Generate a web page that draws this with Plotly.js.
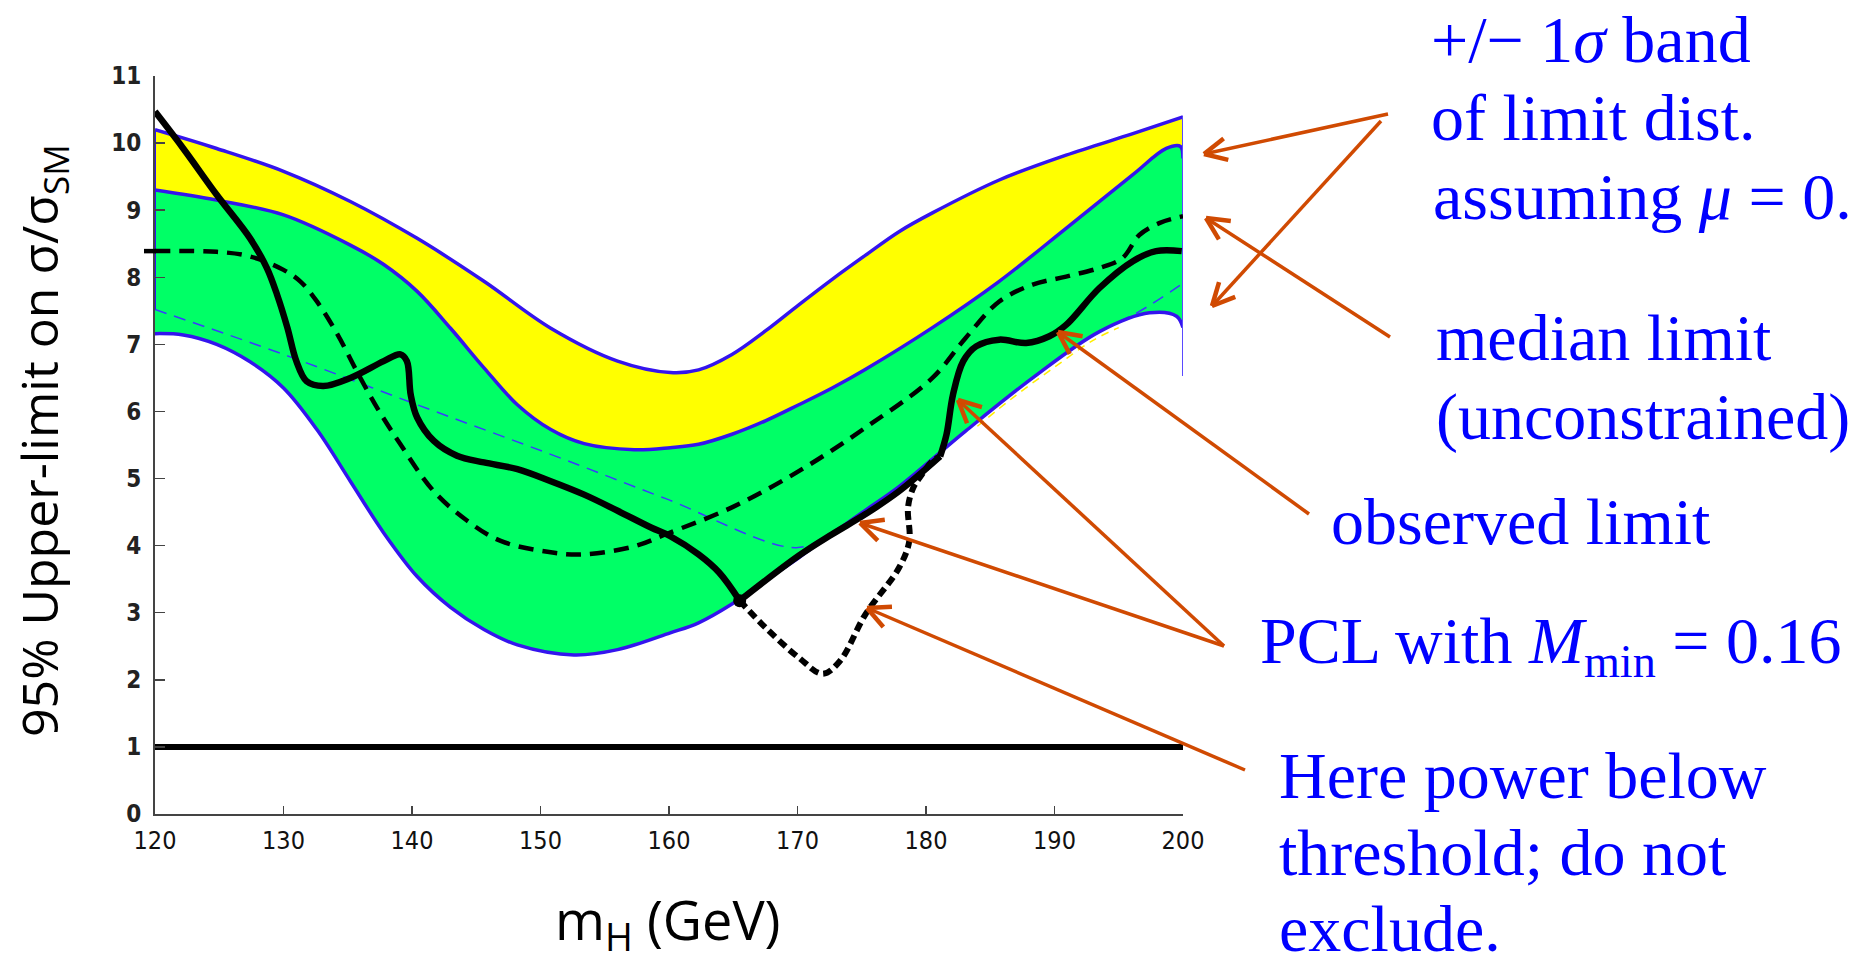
<!DOCTYPE html>
<html>
<head>
<meta charset="utf-8">
<script src="https://cdn.plot.ly/plotly-3.0.1.min.js"></script>
<style>html,body{margin:0;padding:0;background:#fff;}#chart{width:1870px;height:965px;}</style>
</head>
<body>
<div id="chart"></div>
<script>
// ---------------- data ----------------
const xTicks = [120, 130, 140, 150, 160, 170, 180, 190, 200];
const yTicks = [0, 1, 2, 3, 4, 5, 6, 7, 8, 9, 10, 11];

// outer (yellow) upper edge
const outerX = [120, 124.8, 130.0, 135.2, 140.4, 145.6, 150.8, 156.0, 160.1, 162.3, 164.9, 167.5, 170.1, 172.7, 175.3, 177.9, 180.5, 185.7, 190.9, 196.1, 200];
const outerY = [10.2, 9.92, 9.58, 9.13, 8.58, 7.94, 7.24, 6.75, 6.58, 6.62, 6.85, 7.2, 7.59, 7.97, 8.33, 8.68, 8.96, 9.45, 9.82, 10.14, 10.39];

// inner (green) upper edge
const innerUpX = [120, 124.8, 130.0, 135.2, 137.8, 140.4, 143.0, 145.6, 148.2, 150.8, 153.4, 157.3, 160.1, 162.3, 164.9, 167.5, 170.1, 172.7, 175.3, 180.5, 185.7, 190.9, 196.1, 198.7, 199.8, 200];
const innerUpY = [9.30, 9.15, 8.93, 8.48, 8.19, 7.79, 7.24, 6.65, 6.10, 5.73, 5.52, 5.43, 5.46, 5.51, 5.66, 5.86, 6.10, 6.35, 6.63, 7.25, 7.94, 8.73, 9.53, 9.92, 9.95, 9.77];

// inner (green) lower edge
const innerLoX = [120, 122.2, 124.8, 127.4, 130.0, 132.6, 135.2, 137.8, 140.4, 143.0, 145.6, 148.2, 152.6, 156.0, 160.1, 162.3, 164.9, 167.5, 170.1, 172.7, 175.3, 177.9, 183.1, 188.3, 193.5, 197.4, 199.5, 200];
const innerLoY = [7.16, 7.14, 7.00, 6.74, 6.35, 5.73, 4.96, 4.19, 3.54, 3.08, 2.75, 2.52, 2.37, 2.45, 2.70, 2.85, 3.13, 3.48, 3.82, 4.18, 4.53, 4.88, 5.71, 6.50, 7.19, 7.47, 7.42, 7.25];

// median expected limit (unconstrained)
const medianX = [120, 124.8, 127.4, 130.0, 131.3, 132.6, 134.2, 135.7, 137.3, 139.1, 141.7, 144.3, 146.9, 150.8, 153.4, 157.3, 159.75, 164.9, 170.1, 175.3, 180.5, 183.1, 185.7, 188.3, 190.9, 193.5, 195.3, 196.6, 198.2, 200];
const medianY = [8.39, 8.38, 8.31, 8.11, 7.94, 7.64, 7.15, 6.60, 6.05, 5.51, 4.81, 4.37, 4.07, 3.90, 3.87, 3.99, 4.17, 4.57, 5.11, 5.76, 6.50, 7.10, 7.64, 7.89, 8.01, 8.14, 8.29, 8.63, 8.81, 8.91];

// observed limit, first solid part
const obsAX = [120, 122.2, 124.8, 127.4, 128.7, 129.5, 130.3, 131.0, 131.8, 133.1, 135.2, 137.8, 139.1, 139.6, 139.9, 140.4, 141.7, 143.5, 145.6, 148.2, 150.8, 153.4, 156.0, 158.6, 160.1, 162.3, 163.9, 165.5];
const obsAY = [10.47, 9.92, 9.23, 8.58, 8.14, 7.74, 7.25, 6.75, 6.45, 6.38, 6.50, 6.75, 6.85, 6.75, 6.25, 5.91, 5.56, 5.34, 5.24, 5.14, 4.96, 4.76, 4.52, 4.27, 4.14, 3.87, 3.60, 3.18];

// observed limit below the power threshold (dotted)
const obsLowX = [165.5, 167.5, 170.1, 171.96, 173.3, 175.3, 177.9, 178.7, 178.6, 179.0, 179.5, 180.5, 181.1];
const obsLowY = [3.18, 2.78, 2.33, 2.09, 2.28, 2.98, 3.67, 4.07, 4.57, 4.86, 5.01, 5.26, 5.33];

// PCL floor (solid, on the -1 sigma edge)
const pclX = [165.5, 170.1, 172.7, 175.3, 177.9, 181.1];
const pclY = [3.18, 3.85, 4.17, 4.47, 4.81, 5.33];

// observed limit, last solid part
const obsBX = [181.1, 181.6, 182.1, 182.9, 183.9, 185.7, 187.8, 189.6, 190.9, 193.5, 196.1, 197.9, 199.9];
const obsBY = [5.33, 5.66, 6.25, 6.75, 6.97, 7.07, 7.02, 7.12, 7.29, 7.84, 8.24, 8.39, 8.39];

// thin blue dashed threshold line
const threshX = [120, 130.0, 140.4, 150.8, 159.75, 169.9, 172.7, 175.3, 177.9, 183.1, 188.3, 193.5, 196.6, 200];
const threshY = [7.52, 6.85, 6.10, 5.36, 4.70, 3.97, 4.20, 4.52, 4.88, 5.71, 6.50, 7.19, 7.49, 7.91];

// thin yellow dashed piece under the band
const yelDashX = [184, 187, 190, 193, 195];
const yelDashY = [5.78, 6.24, 6.66, 7.06, 7.25];

// band side edges
const leftEdgeX = [120, 120];
const leftEdgeY = [7.52, 10.2];
const rightEdgeX = [200, 200];
const rightEdgeY = [6.53, 10.39];

// sigma/sigma_SM = 1 reference
const unitX = [120, 200];
const unitY = [1, 1];

// junction point
const junctionX = [165.5];
const junctionY = [3.18];

// ---------------- geometry helpers ----------------
const W = 1870, H = 965;
const ML = 155, MR = 687, MT = 76, MB = 151;
const PL = ML, PR = W - MR, PT = MT, PB = H - MB;
const px = v => (v - PL) / (PR - PL);
const py = v => (PB - v) / (PB - PT);

const BLUE = '#3414ee';
const ORANGE = '#d04a02';
const TEXTBLUE = '#0000ff';
const SPL = {shape: 'spline', smoothing: 1.0};

function arrow(tx, ty, hx, hy) {
  const a = Math.atan2(ty - hy, tx - hx);
  const th = 26 * Math.PI / 180, len = 25;
  const s = [];
  const ln = (x0, y0, x1, y1, w) => ({type: 'line', xref: 'paper', yref: 'paper',
    x0: px(x0), y0: py(y0), x1: px(x1), y1: py(y1), line: {color: ORANGE, width: w}, layer: 'above'});
  s.push(ln(tx, ty, hx, hy, 3.5));
  s.push(ln(hx, hy, hx + len * Math.cos(a + th), hy + len * Math.sin(a + th), 4.5));
  s.push(ln(hx, hy, hx + len * Math.cos(a - th), hy + len * Math.sin(a - th), 4.5));
  return s;
}

// ---------------- traces ----------------
const noLine = Object.assign({width: 0, color: 'rgba(0,0,0,0)'}, SPL);
const traces = [
  {x: innerLoX, y: innerLoY, mode: 'lines', line: noLine, hoverinfo: 'skip'},
  {x: outerX, y: outerY, mode: 'lines', fill: 'tonexty', fillcolor: '#ffff00', line: noLine, hoverinfo: 'skip'},
  {x: innerLoX, y: innerLoY, mode: 'lines', line: noLine, hoverinfo: 'skip'},
  {x: innerUpX, y: innerUpY, mode: 'lines', fill: 'tonexty', fillcolor: '#00ff66', line: noLine, hoverinfo: 'skip'},
  {x: threshX, y: threshY, mode: 'lines', line: Object.assign({width: 1.5, color: '#3a3aff', dash: '12px,8px'}, SPL)},
  {x: yelDashX, y: yelDashY, mode: 'lines', line: Object.assign({width: 1.5, color: '#ffee00', dash: '8px,6px'}, SPL)},
  {x: outerX, y: outerY, mode: 'lines', line: Object.assign({width: 3.5, color: BLUE}, SPL)},
  {x: innerUpX, y: innerUpY, mode: 'lines', line: Object.assign({width: 3.5, color: BLUE}, SPL)},
  {x: innerLoX, y: innerLoY, mode: 'lines', line: Object.assign({width: 3.5, color: BLUE}, SPL)},
  {x: leftEdgeX, y: leftEdgeY, mode: 'lines', line: {width: 2, color: BLUE}},
  {x: rightEdgeX, y: rightEdgeY, mode: 'lines', line: {width: 2, color: '#5a4aff'}},
  {x: unitX, y: unitY, mode: 'lines', line: {width: 6, color: '#000'}},
  {x: medianX, y: medianY, mode: 'lines', line: Object.assign({width: 4.5, color: '#000', dash: '15px,9px'}, SPL)},
  {x: obsLowX, y: obsLowY, mode: 'lines', line: Object.assign({width: 6, color: '#000', dash: '9px,5px'}, SPL)},
  {x: pclX, y: pclY, mode: 'lines', line: Object.assign({width: 6.5, color: '#000'}, SPL)},
  {x: obsAX, y: obsAY, mode: 'lines', line: Object.assign({width: 6.5, color: '#000'}, SPL)},
  {x: obsBX, y: obsBY, mode: 'lines', line: Object.assign({width: 6.5, color: '#000'}, SPL)},
  {x: junctionX, y: junctionY, mode: 'markers', marker: {size: 13, color: '#000'}}
];

// ---------------- annotations ----------------
const serif = {family: 'Liberation Serif, Times New Roman, serif', size: 66, color: TEXTBLUE};
function label(text, x, baseline) {
  return {xref: 'paper', yref: 'paper', x: px(x), y: py(baseline - 22), xanchor: 'left', yanchor: 'middle',
    text: text, showarrow: false, font: serif};
}
const annotations = [
  label('+/\u2212 1<i>\u03c3</i> band', 1429, 61),
  label('of limit dist.', 1429, 139),
  label('assuming <i>\u03bc</i> = 0.', 1431, 218),
  label('median limit', 1434, 359),
  label('(unconstrained)', 1434, 439),
  label('observed limit', 1329, 543),
  label('PCL with <i>M</i><sub>min</sub> = 0.16', 1258, 667),
  label('Here power below', 1277, 797),
  label('threshold; do not', 1277, 874),
  label('exclude.', 1277, 950),
  {xref: 'paper', yref: 'paper', x: px(42), y: py(441), xanchor: 'center', yanchor: 'middle', textangle: -90,
   text: '95% Upper-limit on \u03c3/\u03c3<sub>SM</sub>', showarrow: false,
   font: {family: 'Open Sans, sans-serif', size: 50, color: '#000'}},
  {xref: 'paper', yref: 'paper', x: px(668), y: py(922), xanchor: 'center', yanchor: 'middle',
   text: 'm<sub>H</sub> (GeV)', showarrow: false,
   font: {family: 'Open Sans, sans-serif', size: 54, color: '#000'}}
];

// ---------------- arrows ----------------
let shapes = [];
shapes = shapes.concat(arrow(1388, 114, 1204, 154));
shapes = shapes.concat(arrow(1381, 121, 1212, 306));
shapes = shapes.concat(arrow(1390, 337, 1206, 218));
shapes = shapes.concat(arrow(1309, 514, 1058, 332));
shapes = shapes.concat(arrow(1224, 646, 958, 400));
shapes = shapes.concat(arrow(1224, 646, 860, 523));
shapes = shapes.concat(arrow(1245, 770, 867, 608));
// short piece of the median dash left of the axis
shapes.push({type: 'line', xref: 'paper', yref: 'y', x0: px(144), x1: px(156), y0: 8.39, y1: 8.39,
  line: {color: '#000', width: 4.5}, layer: 'above'});

const layout = {
  width: W, height: H,
  margin: {l: ML, r: MR, t: MT, b: MB, pad: 0},
  paper_bgcolor: '#fff', plot_bgcolor: '#fff',
  showlegend: false,
  font: {family: 'DejaVu Sans, sans-serif', color: '#000'},
  xaxis: {range: [120, 200], tickvals: xTicks, ticktext: xTicks.map(String), showgrid: false, zeroline: false,
    showline: true, linecolor: '#444', linewidth: 2, ticks: 'inside', ticklen: 8, tickwidth: 1.5, tickcolor: '#444',
    tickfont: {family: 'DejaVu Sans Condensed, Liberation Sans Narrow, Arial Narrow, sans-serif', size: 25, color: '#111'},
    ticklabelstandoff: 3, fixedrange: true},
  yaxis: {range: [0, 11], tickvals: yTicks, ticktext: yTicks.map(String), showgrid: false, zeroline: false,
    showline: true, linecolor: '#444', linewidth: 2, ticks: 'inside', ticklen: 10, tickwidth: 1.5, tickcolor: '#444',
    tickfont: {family: 'DejaVu Sans Condensed, Liberation Sans Narrow, Arial Narrow, sans-serif', size: 24, color: '#222', weight: 'bold'},
    ticklabelstandoff: 7, fixedrange: true},
  annotations: annotations,
  shapes: shapes
};

Plotly.newPlot('chart', traces, layout, {staticPlot: true, displayModeBar: false});
</script>
</body>
</html>
